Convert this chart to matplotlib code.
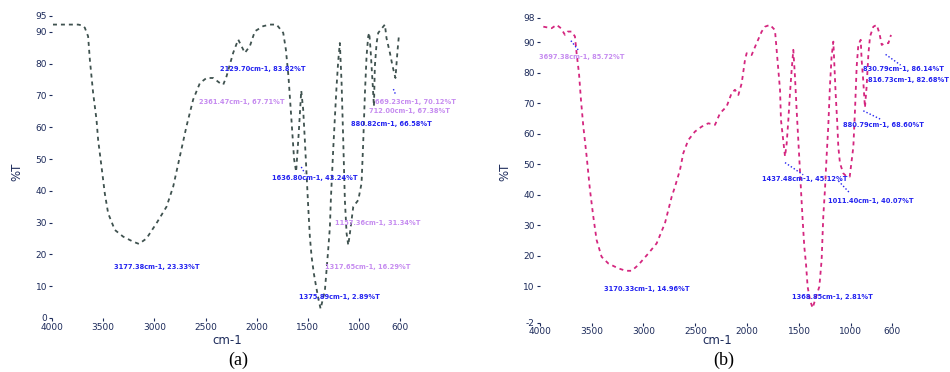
import matplotlib
matplotlib.use("Agg")
import matplotlib.pyplot as plt

# ---------------- data ----------------
wn_a = [3990, 3940, 3744, 3700, 3679, 3647, 3630, 3598, 3565, 3549, 3516, 3484, 3451, 3386,
        3305, 3207, 3150, 3077, 2979, 2881, 2816, 2751, 2686, 2621, 2555, 2490, 2425,
        2360, 2327, 2295, 2230, 2181, 2116, 2067, 2018, 1937, 1872, 1806, 1741, 1715,
        1690, 1660, 1635, 1615, 1590, 1565, 1546, 1530, 1497, 1481, 1464, 1442, 1422,
        1395, 1376, 1334, 1318, 1302, 1285, 1276, 1253, 1236, 1220, 1204, 1188, 1171,
        1155, 1139, 1122, 1106, 1090, 1057, 1008, 976, 960, 943, 927, 911, 901, 888,
        868, 855, 846, 829, 813, 748, 732, 699, 673, 645, 625, 610]
t_a = [92.3, 92.3, 92.3, 92.0, 91.3, 88.6, 81.3, 70.8, 62.4, 56.0, 47.6, 39.2, 32.9, 27.7,
       25.6, 24.0, 23.3, 25.0, 29.8, 35.0, 41.3, 50.8, 60.3, 68.7, 73.9, 75.5, 75.5,
       73.9, 73.4, 76.0, 83.4, 87.6, 83.4, 85.5, 90.2, 91.8, 92.3, 92.3, 89.7, 84.4,
       76.0, 62.0, 50.0, 46.0, 58.0, 71.5, 65.5, 56.0, 35.0, 25.6, 19.3, 14.0, 10.3,
       5.6, 2.9, 8.7, 15.0, 21.4, 28.7, 37.1, 52.9, 63.4, 72.9, 80.8, 86.5, 73.9,
       56.0, 37.1, 26.6, 22.9, 26.6, 35.0, 37.1, 42.4, 55.0, 70.8, 82.4, 88.6, 89.7, 84.4,
       73.9, 66.6, 79.2, 86.5, 89.7, 92.3, 88.0, 83.4, 79.2, 75.5, 84.0, 89.2]

wn_b = [3966, 3886, 3838, 3796, 3757, 3731, 3693, 3661, 3645, 3622, 3603, 3580, 3548, 3516,
        3484, 3452, 3404, 3339, 3243, 3170, 3114, 3050, 2953, 2873, 2793, 2728, 2696,
        2648, 2616, 2568, 2503, 2439, 2375, 2310, 2262, 2198, 2150, 2118, 2085, 2053,
        2021, 2005, 1957, 1909, 1860, 1828, 1780, 1732, 1683, 1674, 1635, 1619, 1603,
        1587, 1571, 1555, 1539, 1523, 1500, 1481, 1465, 1449, 1433, 1417, 1394, 1369,
        1304, 1282, 1266, 1250, 1234, 1218, 1202, 1186, 1169, 1147, 1131, 1121, 1105,
        1073, 1041, 1011, 976, 960, 944, 928, 905, 896, 881, 864, 848, 831, 815, 783,
        751, 725, 702, 677, 638, 613]
t_b = [95.1, 94.6, 95.7, 94.6, 92.4, 93.5, 93.5, 91.9, 86.4, 79.8, 71.1, 62.3, 52.5, 41.5,
       32.8, 25.1, 19.6, 17.4, 15.8, 15.0, 15.0, 16.9, 20.7, 24.0, 30.6, 39.3, 42.6,
       48.1, 53.6, 57.9, 60.7, 62.3, 63.4, 62.9, 66.7, 68.9, 73.3, 74.4, 72.7, 76.5,
       84.2, 86.4, 85.8, 89.7, 93.5, 95.1, 95.7, 94.0, 74.3, 64.5, 52.5, 56.8, 64.5,
       73.3, 80.9, 87.5, 78.7, 67.8, 53.6, 41.5, 31.7, 22.9, 17.4, 9.8, 5.4, 2.8,
       9.8, 18.5, 32.8, 41.5, 52.5, 62.3, 75.4, 85.3, 90.2, 73.3, 63.4, 55.7, 50.3,
       47.0, 45.9, 45.9, 55.7, 67.8, 82.0, 89.1, 90.8, 84.2, 77.6, 68.6, 75.4, 86.1, 91.9, 95.1,
       95.7, 93.0, 89.1, 89.7, 89.7, 92.4]

# peak labels: text, anchor wavenumber, anchor %T, colour key
labels_a = ["3177.38cm-1, 23.33%T", "2129.70cm-1, 83.82%T", "2361.47cm-1, 67.71%T",
            "1636.80cm-1, 43.24%T", "1157.36cm-1, 31.34%T", "1317.65cm-1, 16.29%T",
            "1375.89cm-1, 2.89%T", "880.82cm-1, 66.58%T", "669.23cm-1, 70.12%T",
            "712.00cm-1, 67.38%T"]
lx_a = [2980, 1937, 2148, 1432, 813, 916, 1188, 688, 445, 511]
ly_a = [16, 78.3, 68, 44, 30, 16, 6.7, 61, 68, 65]
lc_a = ["b", "b", "m", "b", "m", "m", "b", "b", "m", "m"]

labels_b = ["3697.38cm-1, 85.72%T", "3170.33cm-1, 14.96%T", "1368.85cm-1, 2.81%T",
            "1437.48cm-1, 45.12%T", "1011.40cm-1, 40.07%T", "880.79cm-1, 68.60%T",
            "830.79cm-1, 86.14%T", "816.73cm-1, 82.68%T"]
lx_b = [3596, 2970, 1179, 1449, 806, 687, 494, 446]
ly_b = [85, 9, 6.5, 45, 38, 63, 81.2, 77.6]
lc_b = ["m", "b", "b", "b", "b", "b", "b", "b"]

xticks = [4000, 3500, 3000, 2500, 2000, 1500, 1000, 600]

# ---------------- figure ----------------
fig = plt.figure(figsize=(9.5, 3.72), dpi=100)
tick_col = "#1c2a5a"
text_col = {"b": "#2323f0", "m": "#c68cf0"}


def setup(ax, ymin, ymax, yticks):
    ax.set_xlim(4000, 600)
    ax.set_ylim(ymin, ymax)
    for s in ax.spines.values():
        s.set_visible(False)
    ax.set_xticks(xticks)
    ax.set_xticklabels([str(v) for v in xticks])
    ax.set_yticks(yticks)
    ax.set_yticklabels([str(v) for v in yticks])
    ax.tick_params(axis="both", labelsize=6.5, colors=tick_col, length=2.5,
                   width=0.8, pad=1)


ax1 = fig.add_axes([0.0547, 0.1452, 0.3664, 0.8118])
setup(ax1, 0, 95, [0, 10, 20, 30, 40, 50, 60, 70, 80, 90, 95])
ax1.plot(wn_a, t_a, color="#3f524f", lw=1.3, linestyle=(0, (2.2, 2.2)))
for s, x, y, c in zip(labels_a, lx_a, ly_a, lc_a):
    ax1.text(x, y, s, fontsize=4.8, color=text_col[c], ha="center", va="center",
             fontweight="bold", clip_on=False)

ax2 = fig.add_axes([0.5682, 0.1328, 0.3711, 0.8192])
setup(ax2, -2, 98, [-2, 10, 20, 30, 40, 50, 60, 70, 80, 90, 98])
ax2.plot(wn_b, t_b, color="#d4267f", lw=1.3, linestyle=(0, (2.2, 2.2)))
for s, x, y, c in zip(labels_b, lx_b, ly_b, lc_b):
    ax2.text(x, y, s, fontsize=4.8, color=text_col[c], ha="center", va="center",
             fontweight="bold", clip_on=False)

# dotted leader lines (from peak to label)
lead_b = [((3700, 90.5), (3630, 87.5)), ((1635, 50.5), (1460, 46.5)),
          ((1120, 44.5), (1010, 40.5)), ((880, 67.5), (700, 64.5)),
          ((665, 86.0), (520, 82.5))]
for (x0, y0), (x1, y1) in lead_b:
    ax2.plot([x0, x1], [y0, y1], color="#2323f0", lw=1.0, linestyle=(0, (1, 1.5)),
             clip_on=False)
lead_a = [((1565, 47.5), (1530, 45.5)), ((665, 72.0), (640, 70.0))]
for (x0, y0), (x1, y1) in lead_a:
    ax1.plot([x0, x1], [y0, y1], color="#2323f0", lw=1.0, linestyle=(0, (1, 1.5)),
             clip_on=False)

fig.text(227 / 950, 1 - 341 / 372, "cm-1", fontsize=8.5, color="#1c2a5a",
         ha="center", va="center")
fig.text(717 / 950, 1 - 341 / 372, "cm-1", fontsize=8.5, color="#1c2a5a",
         ha="center", va="center")
fig.text(17 / 950, 1 - 172 / 372, "%T", fontsize=8.5, color="#1c2a5a",
         ha="center", va="center", rotation=90)
fig.text(505 / 950, 1 - 172 / 372, "%T", fontsize=8.5, color="#1c2a5a",
         ha="center", va="center", rotation=90)
fig.text(238 / 950, 1 - 360 / 372, "(a)", fontsize=13, family="Liberation Serif",
         ha="center", va="center")
fig.text(724 / 950, 1 - 360 / 372, "(b)", fontsize=13, family="Liberation Serif",
         ha="center", va="center")

fig.savefig("out.png", dpi=100)
